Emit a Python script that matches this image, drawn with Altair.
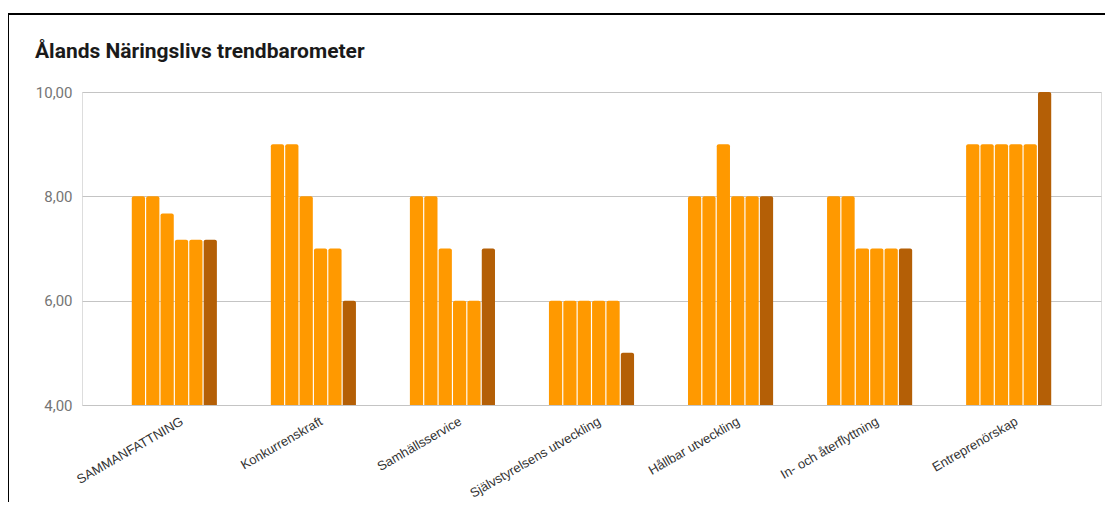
import altair as alt
import pandas as pd

categories = [
    "SAMMANFATTNING",
    "Konkurrenskraft",
    "Samhällsservice",
    "Självstyrelsens utveckling",
    "Hållbar utveckling",
    "In- och återflyttning",
    "Entreprenörskap",
]
series = ["Serie 1", "Serie 2", "Serie 3", "Serie 4", "Serie 5", "Serie 6"]
serie_1 = [8.0, 9.0, 8.0, 6.0, 8.0, 8.0, 9.0]
serie_2 = [8.0, 9.0, 8.0, 6.0, 8.0, 8.0, 9.0]
serie_3 = [7.67, 8.0, 7.0, 6.0, 9.0, 7.0, 9.0]
serie_4 = [7.17, 7.0, 6.0, 6.0, 8.0, 7.0, 9.0]
serie_5 = [7.17, 7.0, 6.0, 6.0, 8.0, 7.0, 9.0]
serie_6 = [7.17, 6.0, 7.0, 5.0, 8.0, 7.0, 10.0]
colors = ["#ff9900", "#ff9900", "#ff9900", "#ff9900", "#ff9900", "#b45f06"]
y_ticks = [4, 6, 8, 10]

all_series = [serie_1, serie_2, serie_3, serie_4, serie_5, serie_6]
rows = []
for s_name, vals in zip(series, all_series):
    for cat, v in zip(categories, vals):
        rows.append({"kategori": cat, "serie": s_name, "varde": v})
df = pd.DataFrame(rows)

title = alt.TitleParams(
    "Ålands Näringslivs trendbarometer",
    anchor="start",
    frame="group",
    font="Roboto",
    fontSize=21,
    fontWeight="bold",
    color="#1a1a1a",
    dx=-47,
    dy=66,
    offset=0,
    baseline="alphabetic",
)

bars = alt.Chart(df).mark_bar(
    cornerRadiusTopLeft=2, cornerRadiusTopRight=2
).encode(
    x=alt.X(
        "kategori:N",
        sort=categories,
        scale=alt.Scale(paddingInner=0.388, paddingOuter=0.358),
        axis=alt.Axis(
            title=None,
            labelAngle=-30,
            labelAlign="right",
            labelBaseline="middle",
            labelOffset=8,
            labelPadding=15,
            ticks=False,
            tickSize=0,
            domain=False,
            labelFontSize=13,
            labelFont="Liberation Sans",
            labelColor="#333333",
            labelLimit=400,
        ),
    ),
    xOffset=alt.XOffset("serie:N", sort=series, scale=alt.Scale(paddingInner=0.08)),
    y=alt.Y(
        "varde:Q",
        scale=alt.Scale(domain=[4, 10], nice=False, zero=False),
        axis=alt.Axis(
            title=None,
            values=y_ticks,
            labelExpr="replace(format(datum.value, '.2f'), '.', ',')",
            labelFont="Roboto",
            labelFontSize=15,
            labelColor="#757575",
            labelPadding=10,
            ticks=False,
            domain=False,
            gridColor="#c4c4c4",
            gridWidth=1,
        ),
    ),
    y2=alt.datum(4),
    color=alt.Color(
        "serie:N", sort=series, scale=alt.Scale(domain=series, range=colors), legend=None
    ),
)

frame_df = pd.DataFrame({"a": [0]})
left_border = alt.Chart(frame_df).mark_rule(color="#000000", strokeWidth=2).encode(
    x=alt.value(-74), y=alt.value(-78), y2=alt.value(420)
)
top_border = alt.Chart(frame_df).mark_rule(color="#000000", strokeWidth=2).encode(
    x=alt.value(-75), x2=alt.value(1030), y=alt.value(-78)
)

chart = (
    alt.layer(bars, left_border, top_border)
    .properties(
        width=1019,
        height=313,
        title=title,
        autosize=alt.AutoSizeParams(type="none"),
        padding={"left": 74, "top": 84, "right": 4, "bottom": 97},
    )
    .configure_view(stroke=None)
    .configure(background="#ffffff")
)

chart.save("out.html", embed_options={"renderer": "svg", "actions": False})
